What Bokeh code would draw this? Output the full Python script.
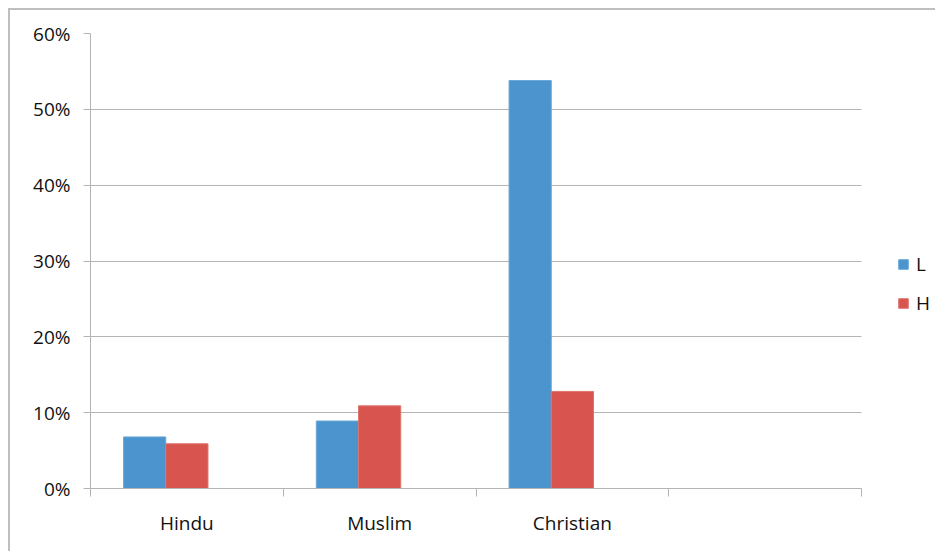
from bokeh.plotting import figure
from bokeh.models import ColumnDataSource, FixedTicker, NumeralTickFormatter, Legend, LegendItem, Range1d
from bokeh.transform import dodge
from bokeh.embed import file_html
from bokeh.resources import INLINE

categories = ["Hindu", "Muslim", "Christian", ""]
L_values = [0.068, 0.089, 0.538, 0.0]
H_values = [0.059, 0.109, 0.128, 0.0]
y_ticks = [0, 0.1, 0.2, 0.3, 0.4, 0.5, 0.6]

n = len(categories)
centers = [i + 0.5 for i in range(n)]
src = ColumnDataSource(dict(x=centers, L=L_values, H=H_values))

FONT = "Open Sans"
# frame spans to the right edge; categories occupy 0..n (x 90..861 px), extra room holds the legend
slot_px = 771 / n
extra = 76 / slot_px
p = figure(width=927, height=543, output_backend="svg", toolbar_location=None,
           x_range=Range1d(0, n + extra), y_range=Range1d(0, 0.6),
           min_border_left=80, min_border_top=23, min_border_bottom=65, min_border_right=0)
p.styles = {"border-left": "2px solid #bfbfbf", "border-top": "2px solid #bfbfbf",
            "margin-left": "8px", "margin-top": "8px"}
p.outline_line_color = None
p.background_fill_color = "white"
p.border_fill_color = "white"

bw = 0.219
rL = p.vbar(x=dodge("x", -bw, range=p.x_range), top="L", width=bw, source=src,
            fill_color="#4B94CD", line_color="#6aa9d8", line_width=1)
rH = p.vbar(x="x", top="H", width=bw, source=src,
            fill_color="#D8554F", line_color="#e0736e", line_width=1)

p.xgrid.visible = False
p.ygrid.grid_line_color = "#b4b4b4"
p.ygrid.grid_line_width = 1
p.ygrid.ticker = FixedTicker(ticks=y_ticks)
p.ygrid.cross_bounds = (0, n)

p.yaxis.ticker = FixedTicker(ticks=y_ticks)
p.yaxis.formatter = NumeralTickFormatter(format="0%")
p.yaxis.axis_line_color = "#b4b4b4"
p.yaxis.major_tick_line_color = "#b4b4b4"
p.yaxis.major_tick_out = 7
p.yaxis.major_tick_in = 0
p.yaxis.minor_tick_line_color = None
p.yaxis.major_label_text_font = FONT
p.yaxis.major_label_text_font_size = "19px"
p.yaxis.major_label_text_color = "#111111"
p.yaxis.major_label_standoff = 13

p.xaxis.bounds = (0, n)
p.xaxis.ticker = FixedTicker(ticks=centers, minor_ticks=list(range(n + 1)))
p.xaxis.major_label_overrides = {c: lab for c, lab in zip(centers, categories)}
p.xaxis.axis_line_color = "#b4b4b4"
p.xaxis.major_tick_line_color = None
p.xaxis.minor_tick_line_color = "#b4b4b4"
p.xaxis.minor_tick_out = 8
p.xaxis.minor_tick_in = 0
p.xaxis.major_label_text_font = FONT
p.xaxis.major_label_text_font_size = "19px"
p.xaxis.major_label_text_color = "#111111"
p.xaxis.major_label_standoff = 13

legend = Legend(items=[LegendItem(label="L", renderers=[rL]), LegendItem(label="H", renderers=[rH])],
                location=(807, 172), orientation="vertical", spacing=13,
                label_text_font=FONT, label_text_font_size="19px", label_text_color="#111111",
                glyph_width=12, glyph_height=12, label_standoff=7,
                border_line_color=None, background_fill_alpha=0, padding=0, margin=0)
p.add_layout(legend, "center")

open("out.html", "w").write(file_html(p, INLINE))
